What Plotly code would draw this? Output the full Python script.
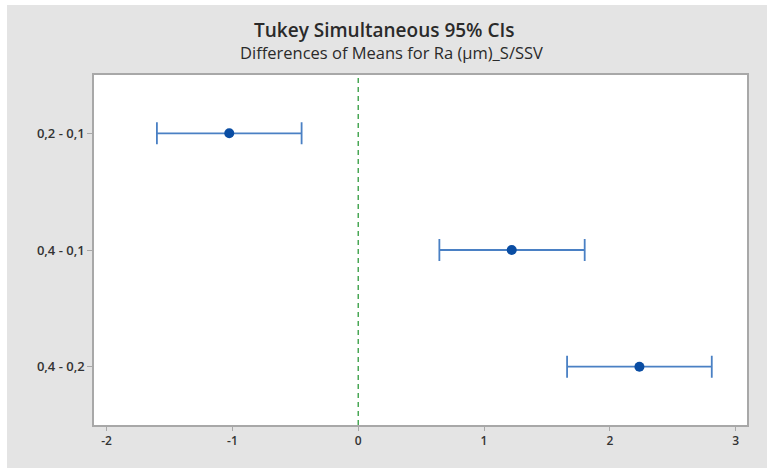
import plotly.graph_objects as go

comparisons = ["0,2 - 0,1", "0,4 - 0,1", "0,4 - 0,2"]
diff_mean = [-1.025, 1.22, 2.235]
ci_lower = [-1.60, 0.645, 1.66]
ci_upper = [-0.45, 1.80, 2.81]
x_ticks = [-2, -1, 0, 1, 2, 3]

err_plus = [u - m for u, m in zip(ci_upper, diff_mean)]
err_minus = [m - l for m, l in zip(diff_mean, ci_lower)]

OX, OY = 7, 5  # white strip on left / top of the page
W, H = 767 - OX, 468 - OY
L, R, T, B = 94 - OX, 20, 75 - OY, 43
pw, ph = W - L - R, H - T - B

fig = go.Figure()
fig.add_trace(go.Scatter(
    x=diff_mean, y=comparisons, mode="markers",
    marker=dict(color="#0a4da3", size=10),
    error_x=dict(type="data", symmetric=False, array=err_plus, arrayminus=err_minus,
                 color="#4a80c4", thickness=1.8, width=11),
    showlegend=False, hoverinfo="skip",
))

fig.add_shape(type="line", xref="x", yref="paper", x0=0, x1=0, y0=0, y1=1,
              line=dict(color="#2f9a3c", width=1.3, dash="5px,4px"))

fig.add_annotation(text="Tukey Simultaneous 95% CIs", xref="paper", yref="paper",
                   x=(384 - OX - L) / pw, y=(ph + T - (30 - OY)) / ph, showarrow=False,
                   xanchor="center", yanchor="middle",
                   font=dict(family="Open Sans", size=19, color="#2a2a2a", weight=600))
fig.add_annotation(text="Differences of Means for Ra (µm)_S/SSV", xref="paper", yref="paper",
                   x=(391 - OX - L) / pw, y=(ph + T - (52 - OY)) / ph, showarrow=False,
                   xanchor="center", yanchor="middle",
                   font=dict(family="Open Sans", size=16.5, color="#2a2a2a"))

fig.update_layout(
    width=W, height=H,
    margin=dict(l=L, r=R, t=T, b=B),
    paper_bgcolor="#e4e4e4", plot_bgcolor="white",
    font=dict(family="Open Sans", color="#333333"),
)
fig.update_xaxes(range=[-2.1, 3.09], tickvals=x_ticks, ticktext=[str(v) for v in x_ticks],
                 showgrid=False, zeroline=False, showline=True, mirror=True,
                 linecolor="#a8a8a8", linewidth=1.5, ticks="outside", ticklen=4,
                 tickcolor="#a8a8a8", tickfont=dict(size=12, color="#333333", weight=600))
fig.update_yaxes(type="category", categoryorder="array", categoryarray=comparisons,
                 range=[2.5, -0.5], showgrid=False, zeroline=False, showline=True, mirror=True,
                 linecolor="#a8a8a8", linewidth=1.5, ticks="outside", ticklen=5,
                 tickcolor="#a8a8a8", tickfont=dict(size=13, color="#333333", weight=600))

fig.write_html(
    "out.html",
    config={"displayModeBar": False},
    post_script=(
        "document.body.style.margin='%dpx 0 0 %dpx';"
        "document.body.style.padding='0';"
        "document.body.style.background='white';" % (OY, OX)
    ),
)
